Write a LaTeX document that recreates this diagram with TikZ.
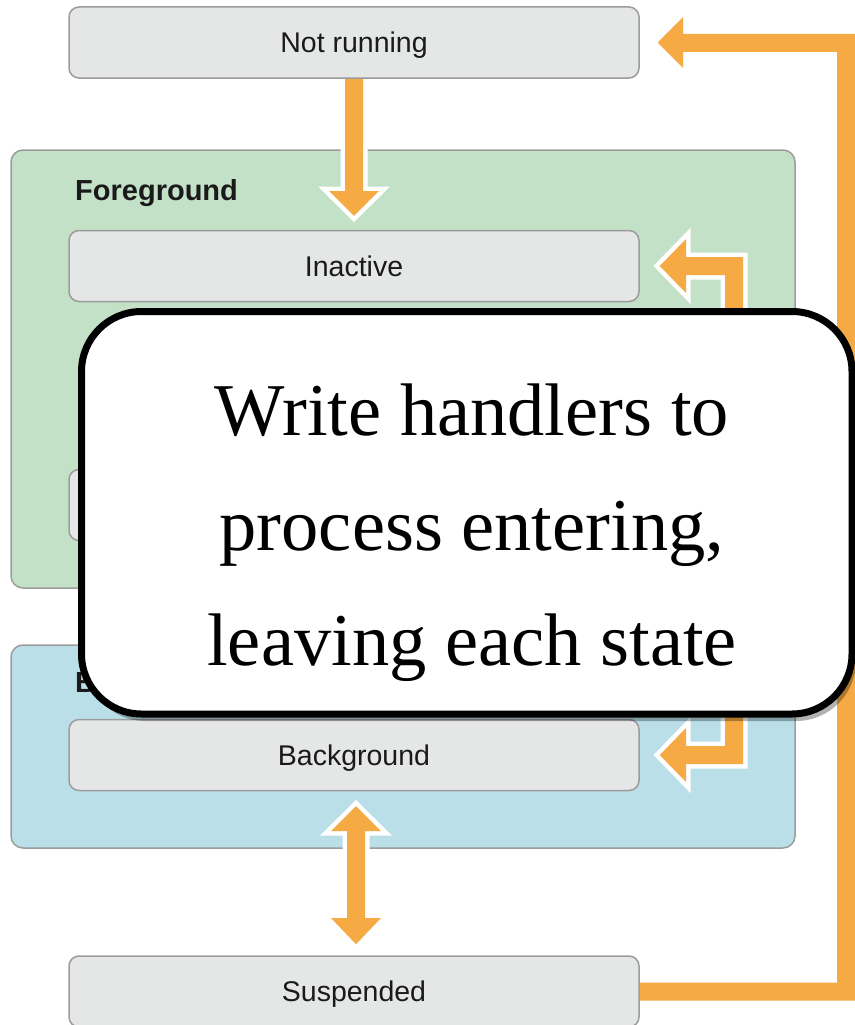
\documentclass[tikz,border=0pt]{standalone}
\usepackage{fontspec}
\setmainfont{Liberation Serif}
\newfontfamily\hv{Liberation Sans}
\usetikzlibrary{calc,shadows}
\definecolor{arrowor}{HTML}{F6AA43}
\definecolor{fggreen}{HTML}{C3E1C7}
\definecolor{bgblue}{HTML}{BADFE9}
\definecolor{boxgray}{HTML}{E5E6E6}
\definecolor{bordergray}{HTML}{9C9C9C}
\definecolor{labelink}{HTML}{1A1A1A}
\begin{document}
\begin{tikzpicture}[x=1pt,y=-1pt,
  container/.style={draw=bordergray, line width=1.5pt, rounded corners=12pt, inner sep=0pt},
  statebox/.style={draw=bordergray, line width=1.5pt, fill=boxgray, rounded corners=10pt,
    minimum width=570pt, minimum height=71pt, inner sep=0pt, text height=20.5pt, text depth=0pt,
    font=\hv\fontsize{28.5}{30}\selectfont, text=labelink},
  grouplabel/.style={anchor=base west, inner sep=0pt, font=\hv\bfseries\fontsize{29}{30}\selectfont, text=labelink},
  arrowpoly/.style={preaction={draw=white, line width=9pt, line join=miter, miter limit=10}, fill=arrowor},
  calloutbox/.style={draw=black, line width=7pt, fill=white, rounded corners=60pt,
    minimum width=770.5pt, minimum height=402.5pt, inner sep=0pt,
    drop shadow={shadow xshift=4pt, shadow yshift=-7pt, opacity=0.3, fill=black}},
  callouttext/.style={anchor=base, inner sep=0pt, font=\fontsize{74.5}{80}\selectfont}
]
\useasboundingbox (0,0) rectangle (854,1025);

% containers
\node[container, fill=fggreen, minimum width=784pt, minimum height=438pt] (fg) at (403,369) {};
\node[container, fill=bgblue, minimum width=784pt, minimum height=203pt] (bg) at (403,746.5) {};
\node[grouplabel] (fglabel) at (75,200) {Foreground};
\node[grouplabel] (bglabel) at (75,692) {Background};

% centres of the state boxes
\path (354,42.5) coordinate (nrc) (354,266) coordinate (inc) (354,505) coordinate (acc)
      (354,755) coordinate (bgc) (354,991.5) coordinate (suc);

% invisible copies of the state boxes, for their anchors
\node[statebox, draw=none, fill=none] (nr) at (nrc) {};
\node[statebox, draw=none, fill=none] (inactive) at (inc) {};
\node[statebox, draw=none, fill=none] (bgbox) at (bgc) {};
\node[statebox, draw=none, fill=none] (susp) at (suc) {};

% arrows
\path[arrowpoly] ($(susp.east)+(-10,9)$) -- (855,1000.5) -- (855,34) -- (683,34) -- (683,17)
  -- ($(nr.east)+(18,0)$) -- (683,68) -- (683,52) -- (837,52) -- (837,982.5)
  -- ($(susp.east)+(-10,-9)$) -- cycle;
\path[arrowpoly] ($(nr.south)+(-9,-6)$) -- (345,191) -- (329,191) -- ($(inactive.north)+(0,-14)$)
  -- (379,191) -- (363,191) -- ($(nr.south)+(9,-6)$) -- cycle;
\path[arrowpoly] (725,520) -- (725,275) -- (686,275) -- (686,293) -- ($(inactive.east)+(20,0)$)
  -- (686,239) -- (686,257) -- (743,257) -- (743,520) -- cycle;
\path[arrowpoly] (725,500) -- (725,746) -- (686,746) -- (686,728) -- ($(bgbox.east)+(20,0)$)
  -- (686,782) -- (686,764) -- (743,764) -- (743,500) -- cycle;
\path[arrowpoly] ($(bgbox.south)+(2,15)$) -- (381,831) -- (365,831) -- (365,918) -- (381,918)
  -- ($(susp.north)+(2,-11)$) -- (331,918) -- (347,918) -- (347,831) -- (331,831) -- cycle;

% visible state boxes
\node[statebox] (nrbox) at (nrc) {Not running};
\node[statebox] (inbox) at (inc) {Inactive};
\node[statebox] (active) at (acc) {};
\node[statebox] (bgstate) at (bgc) {Background};
\node[statebox] (suspbox) at (suc) {Suspended};

% callout
\node[calloutbox] (callout) at (466.75,512.75) {};
\node[callouttext] (l1) at (472,435) {Write handlers to};
\node[callouttext] (l2) at (472,550) {process entering,};
\node[callouttext] (l3) at (472,665) {leaving each state};
\end{tikzpicture}
\end{document}
